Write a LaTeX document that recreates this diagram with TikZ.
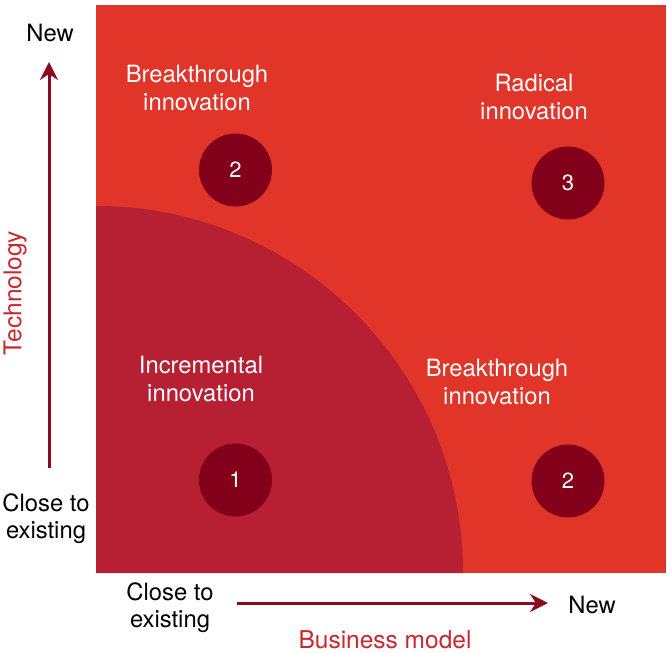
\documentclass[tikz,border=0pt]{standalone}
\usepackage{fontspec}
\setmainfont{TeX Gyre Heros}
\usetikzlibrary{arrows.meta}
\definecolor{mainred}{HTML}{E2352A}
\definecolor{incred}{HTML}{B71F33}
\definecolor{dotred}{HTML}{82001A}
\definecolor{arrred}{HTML}{8A0B20}
\definecolor{labred}{HTML}{C8282E}
\tikzset{
  qlabel/.style={text=white, align=center, font=\fontsize{23.8}{28}\selectfont, inner sep=0pt},
  axtext/.style={text=black, align=center, font=\fontsize{23.8}{27}\selectfont, inner sep=0pt},
  axlabel/.style={text=labred, font=\fontsize{24.5}{27}\selectfont, inner sep=0pt},
  dot/.style={circle, fill=dotred, minimum size=73pt, inner sep=0pt, text=white, font=\fontsize{22}{27}\selectfont},
  axarrow/.style={draw=arrred, line width=3pt, -{Stealth[length=18pt,width=18pt,inset=6pt]}}
}
\begin{document}
\begin{tikzpicture}[x=1pt,y=-1pt]
\useasboundingbox (0,0) rectangle (667,653);
\fill[white] (0,0) rectangle (667,653);
% main square
\fill[mainred] (96,5) rectangle (666,573);
% quarter disc
\fill[incred] (96,573) -- (96,206) arc[start angle=90, end angle=0, radius=367pt] -- cycle;
% circles
\node[dot] (d2a) at (235.5,170) {2};
\node[dot] (d3) at (568,183) {3};
\node[dot] (d1) at (235.5,480) {1};
\node[dot] (d2b) at (568,481) {2};
% quadrant labels
\node[qlabel] (q1) at (197,88) {Breakthrough\\innovation};
\node[qlabel] (q2) at (534,97) {Radical\\innovation};
\node[qlabel] (q3) at (201,379) {Incremental\\innovation};
\node[qlabel] (q4) at (497,382) {Breakthrough\\innovation};
% axis texts
\node[axtext] (tnew) at (50,33) {New};
\node[axtext] (tclose) at (46,519) {Close to\\existing};
\node[axtext] (bclose) at (170,608) {Close to\\existing};
\node[axtext] (bnew) at (592,605) {New};
\node[axlabel] (bm) at (385,639.5) {Business model};
\node[axlabel, rotate=90] (tech) at (15,293) {Technology};
% arrows
\coordinate (vs) at (49,468);
\coordinate (ve) at (49,62);
\coordinate (hs) at (237,603);
\coordinate (he) at (548,603);
\draw[axarrow] (vs) -- (ve);
\draw[axarrow] (hs) -- (he);
\end{tikzpicture}
\end{document}
